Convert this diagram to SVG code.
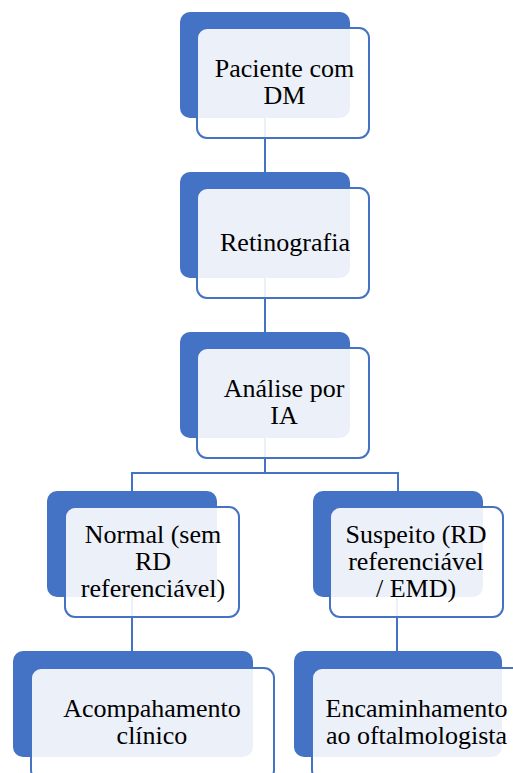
<svg xmlns="http://www.w3.org/2000/svg" width="513" height="773" viewBox="0 0 513 773">
<style>
.back{fill:#4472C4;}
.front{fill:#FFFFFF;fill-opacity:0.9;stroke:#4472C4;stroke-width:2;}
.conn{fill:none;stroke:#4472C4;stroke-width:2;}
.t{font-family:'Liberation Serif','Times New Roman',serif;font-size:26px;fill:#000000;text-anchor:middle;}
</style>
<rect width="513" height="773" fill="#FFFFFF"/>
<g id="connectors">
<path class="conn" d="M265,118 V172"/>
<path class="conn" d="M265,278 V332"/>
<path class="conn" d="M265,438 V473 M132,491 V473 H398 V491"/>
<path class="conn" d="M132,597 V651"/>
<path class="conn" d="M397,597 V651"/>
</g>
<g id="n1">
<rect class="back" x="180" y="12" width="170" height="106" rx="10"/>
<rect class="front" x="197" y="28" width="172" height="110" rx="10"/>
<text class="t" x="284.5" y="77">Paciente com</text>
<text class="t" x="284.5" y="104">DM</text>
</g>
<g id="n2">
<rect class="back" x="180" y="172" width="170" height="106" rx="10"/>
<rect class="front" x="197" y="188" width="172" height="110" rx="10"/>
<text class="t" x="285" y="251">Retinografia</text>
</g>
<g id="n3">
<rect class="back" x="180" y="332" width="170" height="106" rx="10"/>
<rect class="front" x="197" y="348" width="172" height="110" rx="10"/>
<text class="t" x="284" y="397">Análise por</text>
<text class="t" x="284" y="424">IA</text>
</g>
<g id="n4">
<rect class="back" x="47" y="491" width="170" height="106" rx="10"/>
<rect class="front" x="65" y="507" width="174" height="110" rx="10"/>
<text class="t" x="153" y="543">Normal (sem</text>
<text class="t" x="153" y="570">RD</text>
<text class="t" x="153" y="597">referenciável)</text>
</g>
<g id="n5">
<rect class="back" x="313" y="491" width="170" height="106" rx="10"/>
<rect class="front" x="330" y="507" width="173" height="110" rx="10"/>
<text class="t" x="416" y="543">Suspeito (RD</text>
<text class="t" x="416" y="570">referenciável</text>
<text class="t" x="416" y="597">/ EMD)</text>
</g>
<g id="n6">
<rect class="back" x="13" y="651" width="240" height="106" rx="10"/>
<rect class="front" x="31" y="668" width="243" height="112" rx="10"/>
<text class="t" x="152" y="717">Acompahamento</text>
<text class="t" x="152" y="744">clínico</text>
</g>
<g id="n7">
<rect class="back" x="294" y="651" width="208" height="106" rx="10"/>
<rect class="front" x="312" y="668" width="210" height="112" rx="10"/>
<text class="t" x="416.5" y="717">Encaminhamento</text>
<text class="t" x="416.5" y="744">ao oftalmologista</text>
</g>
</svg>
